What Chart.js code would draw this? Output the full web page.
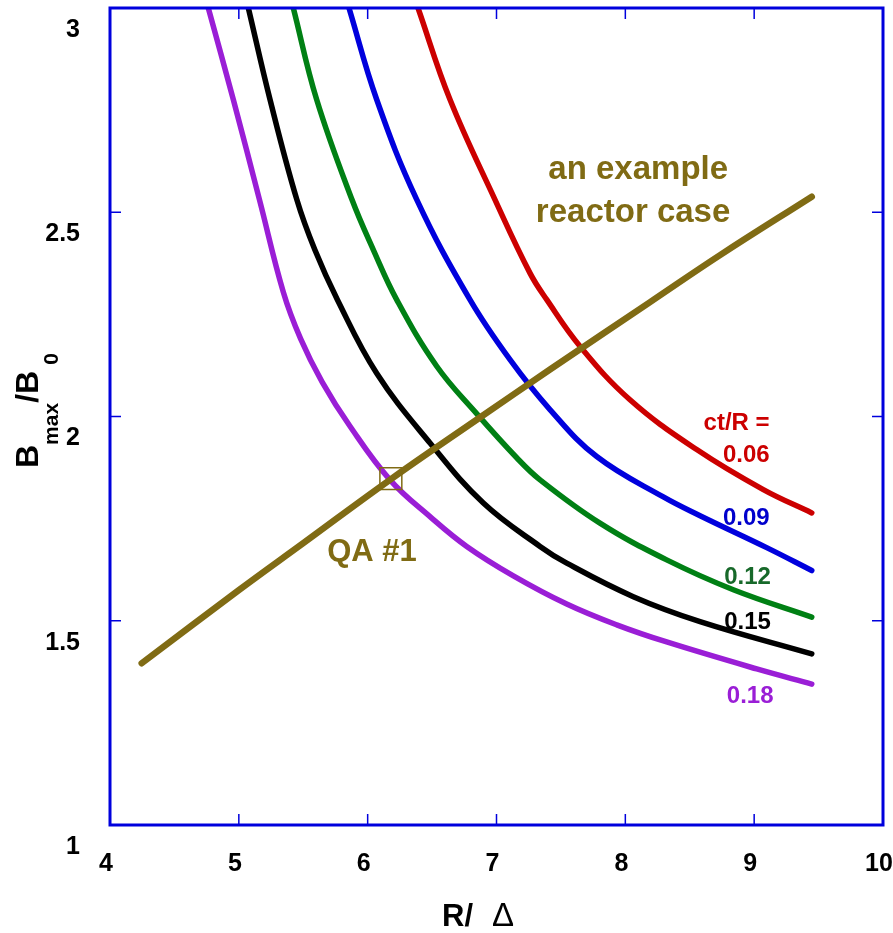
<!DOCTYPE html>
<html>
<head>
<meta charset="utf-8">
<script src="https://cdn.jsdelivr.net/npm/chart.js@4.4.0/dist/chart.umd.min.js"></script>
<style>
  html, body { margin: 0; padding: 0; background: #ffffff; }
  #wrap { width: 893px; height: 933px; position: relative; }
</style>
</head>
<body>
<div id="wrap"><canvas id="bmaxChart"></canvas></div>
<script>
// ejes
var xTicks = [4, 5, 6, 7, 8, 9, 10];
var yTicks = [1, 1.5, 2, 2.5, 3];

// curvas ct/R
var ctLabels = ['0.06', '0.09', '0.12', '0.15', '0.18'];

var rd006 = [6.391, 6.639, 6.988, 7.260, 7.390, 7.648, 8.036, 8.554, 9.071, 9.447];
var bb006 = [3.0, 2.776, 2.531, 2.351, 2.286, 2.172, 2.041, 1.919, 1.821, 1.764];

var rd009 = [5.855, 6.070, 6.381, 6.794, 7.105, 7.415, 7.778, 8.295, 8.580, 9.097, 9.447];
var bb009 = [3.0, 2.776, 2.531, 2.286, 2.139, 2.017, 1.902, 1.803, 1.757, 1.679, 1.623];

var rd012 = [5.423, 5.604, 5.878, 6.044, 6.225, 6.536, 6.846, 7.157, 7.338, 7.803, 8.321, 8.838, 9.447];
var bb012 = [3.0, 2.776, 2.531, 2.408, 2.286, 2.123, 2.007, 1.899, 1.845, 1.739, 1.649, 1.576, 1.509];

var rd015 = [5.074, 5.242, 5.450, 5.590, 5.765, 6.070, 6.484, 6.898, 7.338, 7.545, 8.062, 8.580, 9.447];
var bb015 = [3.0, 2.776, 2.531, 2.408, 2.286, 2.106, 1.935, 1.788, 1.682, 1.641, 1.559, 1.498, 1.419];

var rd018 = [4.763, 4.957, 5.160, 5.345, 5.480, 5.646, 5.863, 6.173, 6.484, 6.769, 7.131, 7.545, 7.933, 8.321, 9.020, 9.447];
var bb018 = [3.0, 2.776, 2.531, 2.305, 2.190, 2.085, 1.976, 1.845, 1.755, 1.682, 1.610, 1.541, 1.490, 1.448, 1.382, 1.345];

// caso de reactor de ejemplo
var rdReactor = [4.246, 5.0, 5.5, 6.173, 6.846, 7.415, 8.192, 8.735, 9.447];
var bbReactor = [1.396, 1.575, 1.690, 1.845, 1.992, 2.115, 2.280, 2.395, 2.538];

// punto QA #1
var rdQA = [6.18];
var bbQA = [1.848];

var FONT = "'Liberation Sans', Arial, Helvetica, sans-serif";
var OLIVE = '#806b14';

function pts(xs, ys) {
    return xs.map(function (v, i) { return { x: v, y: ys[i] }; });
}

function curve(xs, ys, color, width) {
    return {
        data: pts(xs, ys),
        borderColor: color,
        backgroundColor: color,
        borderWidth: width,
        pointRadius: 0,
        fill: false,
        tension: 0.4,
        borderCapStyle: 'round',
        borderJoinStyle: 'round'
    };
}

function sinPadding(s) {
    s.paddingLeft = 0; s.paddingRight = 0; s.paddingTop = 0; s.paddingBottom = 0;
}

// marco azul, marcas hacia dentro y textos
var framePlugin = {
    id: 'frame',
    afterDraw: function (chart) {
        var ctx = chart.ctx;
        var a = chart.chartArea;
        var sx = chart.scales.x;
        var sy = chart.scales.y;
        ctx.save();

        ctx.strokeStyle = '#0000dd';
        ctx.lineWidth = 3;
        ctx.strokeRect(a.left, a.top, a.right - a.left, a.bottom - a.top);

        ctx.lineWidth = 1.5;
        ctx.beginPath();
        xTicks.forEach(function (v) {
            if (v <= 4 || v >= 10) return;
            var px = sx.getPixelForValue(v);
            ctx.moveTo(px, a.top); ctx.lineTo(px, a.top + 11);
            ctx.moveTo(px, a.bottom); ctx.lineTo(px, a.bottom - 11);
        });
        yTicks.forEach(function (v) {
            if (v <= 1 || v >= 3) return;
            var py = sy.getPixelForValue(v);
            ctx.moveTo(a.left, py); ctx.lineTo(a.left + 11, py);
            ctx.moveTo(a.right, py); ctx.lineTo(a.right - 11, py);
        });
        ctx.stroke();

        function txt(s, x, y, color, size, align, base) {
            ctx.font = 'bold ' + size + 'px ' + FONT;
            ctx.fillStyle = color;
            ctx.textAlign = align || 'center';
            ctx.textBaseline = base || 'middle';
            ctx.fillText(s, sx.getPixelForValue(x), sy.getPixelForValue(y));
        }

        // etiquetas de las curvas
        txt('ct/R =', 9.12, 1.982, '#cc0000', 24, 'right');
        txt(ctLabels[0], 9.12, 1.906, '#cc0000', 24, 'right');
        txt(ctLabels[1], 9.12, 1.750, '#0000cc', 24, 'right');
        txt(ctLabels[2], 9.13, 1.607, '#17692a', 24, 'right');
        txt(ctLabels[3], 9.13, 1.497, '#000000', 24, 'right');
        txt(ctLabels[4], 9.15, 1.314, '#9a1ed6', 24, 'right');

        txt('QA #1', 6.034, 1.666, OLIVE, 31);
        txt('an example', 8.10, 2.582, OLIVE, 33, 'center', 'alphabetic');
        txt('reactor case', 8.06, 2.475, OLIVE, 33, 'center', 'alphabetic');

        // titulo eje x
        ctx.fillStyle = '#000';
        ctx.textAlign = 'left';
        ctx.textBaseline = 'alphabetic';
        ctx.font = 'bold 31px ' + FONT;
        ctx.fillText('R/', 442, 926);
        ctx.font = '33px ' + FONT;
        ctx.fillText('\u0394', 492, 926);

        // titulo eje y con subindices
        ctx.translate(38, 468);
        ctx.rotate(-Math.PI / 2);
        ctx.textAlign = 'left';
        var w = 0;
        ctx.font = 'bold 32px ' + FONT;
        ctx.fillText('B', w, 0); w += ctx.measureText('B').width;
        ctx.font = 'bold 21px ' + FONT;
        ctx.fillText('max', w, 20); w += ctx.measureText('max').width;
        ctx.font = 'bold 32px ' + FONT;
        ctx.fillText('/B', w, 0); w += ctx.measureText('/B').width + 6;
        ctx.font = 'bold 21px ' + FONT;
        ctx.fillText('0', w, 20);

        ctx.restore();
    }
};

var datos = {
    datasets: [
        {
            data: pts(rdQA, bbQA),
            showLine: false,
            pointStyle: 'rect',
            pointRadius: 15.5,
            pointBorderWidth: 1.5,
            pointBorderColor: OLIVE,
            pointBackgroundColor: 'rgba(0,0,0,0)'
        },
        curve(rdReactor, bbReactor, OLIVE, 6.5),
        curve(rd006, bb006, '#cc0000', 5.5),
        curve(rd009, bb009, '#0000dd', 5.5),
        curve(rd012, bb012, '#008014', 5.5),
        curve(rd015, bb015, '#000000', 5.5),
        curve(rd018, bb018, '#9a1ed6', 5.5)
    ]
};

var opciones = {
    responsive: true,
    maintainAspectRatio: false,
    animation: false,
    layout: { autoPadding: false, padding: { top: 8, right: 10, left: 0, bottom: 0 } },
    plugins: {
        legend: { display: false },
        tooltip: { enabled: false }
    },
    scales: {
        x: {
            type: 'linear',
            min: 4,
            max: 10,
            grid: { display: false, drawTicks: false },
            border: { display: false },
            afterBuildTicks: function (s) { s.ticks = xTicks.map(function (v) { return { value: v }; }); },
            afterFit: function (s) {
                s.height = 108;
                sinPadding(s);
            },
            ticks: {
                color: '#000',
                padding: 24,
                labelOffset: -4,
                maxRotation: 0,
                callback: function (v) { return String(v); },
                font: { family: FONT, size: 25, weight: 'bold' }
            }
        },
        y: {
            type: 'linear',
            min: 1,
            max: 3,
            grid: { display: false, drawTicks: false },
            border: { display: false },
            afterBuildTicks: function (s) { s.ticks = yTicks.map(function (v) { return { value: v }; }); },
            afterFit: function (s) {
                s.width = 110;
                sinPadding(s);
            },
            ticks: {
                color: '#000',
                padding: 30,
                labelOffset: 22,
                callback: function (v) { return String(v); },
                font: { family: FONT, size: 25, weight: 'bold' }
            }
        }
    }
};

var contexto = document.getElementById('bmaxChart').getContext('2d');
var grafico = new Chart(contexto, {
    type: 'line',
    data: datos,
    options: opciones,
    plugins: [framePlugin]
});
</script>
</body>
</html>
